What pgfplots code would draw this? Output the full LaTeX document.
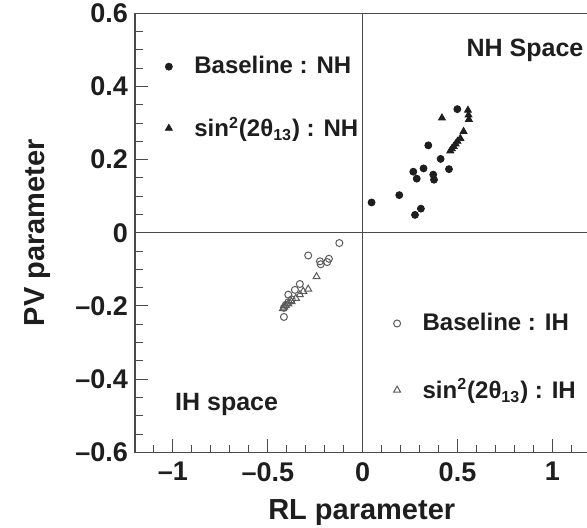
\documentclass[border=0pt]{standalone}
\usepackage{fontspec}
\setmainfont{Liberation Sans}
\usepackage{pgfplots}
\pgfplotsset{compat=1.18}
\definecolor{txt}{HTML}{1E1E1E}
\definecolor{opengray}{HTML}{5A5A5A}
\definecolor{axgray}{HTML}{4A4A4A}
\begin{document}
\begin{tikzpicture}
\pgfplotsset{
  common/.style={
    scale only axis, width=227.65pt, height=219.5pt,
    xmin=-1.2, xmax=1.2, ymin=-0.6, ymax=0.6,
    at={(0,0)}, anchor=south west, clip=false,
  },
  legtxt/.style={font=\fontsize{12}{14}\selectfont\bfseries, text=txt},
}
\begin{axis}[common,
  axis line style={line width=0.6pt, color=axgray},
  tick align=inside, xtick pos=bottom, ytick pos=left,
  xtick={-1,-0.5,0,0.5,1}, xticklabels={--1,--0.5,0,0.5,1},
  ytick={-0.6,-0.4,-0.2,0,0.2,0.4,0.6},
  yticklabels={--0.6,--0.4,--0.2,0,0.2,0.4,0.6},
  minor xtick={-1.1,-0.9,-0.8,-0.7,-0.6,-0.4,-0.3,-0.2,-0.1,0.1,0.2,0.3,0.4,0.6,0.7,0.8,0.9,1.1},
  minor ytick={-0.55,-0.5,-0.45,-0.35,-0.3,-0.25,-0.15,-0.1,-0.05,0.05,0.1,0.15,0.25,0.3,0.35,0.45,0.5,0.55},
  major tick length=6.5pt, minor tick length=3.8pt,
  every tick/.style={line width=0.5pt, axgray},
  ticklabel style={font=\fontsize{13.5}{15}\selectfont\bfseries, text=txt},
  xticklabel style={yshift=-1.5pt},
  xlabel={RL parameter}, ylabel={PV parameter},
  every axis x label/.style={at={(axis description cs:0.498,-0.138)}, anchor=center,
    font=\fontsize{14.5}{16}\selectfont\bfseries, text=txt},
  every axis y label/.style={at={(axis description cs:-0.215,0.5)}, anchor=center, rotate=90,
    font=\fontsize{14.5}{16}\selectfont\bfseries, text=txt},
  legend style={at={(axis cs:-1.042,0.494)}, anchor=north west, draw=none, fill=none,
    legtxt, row sep=16pt, column sep=9pt, inner sep=0pt},
  legend cell align=left,
]
\addplot[axgray, line width=0.5pt, forget plot] coordinates {(0,-0.6) (0,0.6)};
\addplot[axgray, line width=0.5pt, forget plot] coordinates {(-1.2,0) (1.2,0)};
\addplot[only marks, mark=*, mark size=1.75pt, color=txt] coordinates {
(0.047,0.083) (0.193,0.103) (0.276,0.049) (0.307,0.066) (0.267,0.167)
(0.285,0.148) (0.321,0.176) (0.346,0.239) (0.372,0.159) (0.376,0.145)
(0.411,0.202) (0.455,0.174) (0.499,0.338)};
\addlegendentry{Baseline : NH}
\addplot[only marks, mark=triangle*, mark size=2pt, color=txt] coordinates {
(0.418,0.314) (0.555,0.335) (0.558,0.322) (0.560,0.310) (0.532,0.277)
(0.515,0.258) (0.500,0.250) (0.490,0.243) (0.480,0.236) (0.470,0.230) (0.462,0.224)};
\addlegendentry{sin\textsuperscript{2}(2θ\textsubscript{13}) : NH}
\node[anchor=base, font=\fontsize{12.5}{14}\selectfont\bfseries, text=txt] at (axis cs:0.856,0.482) {NH Space};
\node[anchor=base, font=\fontsize{12.5}{14}\selectfont\bfseries, text=txt] at (axis cs:-0.717,-0.487) {IH space};
\end{axis}
\begin{axis}[common, hide axis,
  legend style={at={(axis cs:0.161,-0.208)}, anchor=north west, draw=none, fill=none,
    legtxt, row sep=18.5pt, column sep=9pt, inner sep=0pt},
  legend cell align=left,
]
\addplot[only marks, mark=o, mark size=1.75pt, color=opengray, mark options={line width=0.5pt}] coordinates {
(-0.123,-0.028) (-0.287,-0.062) (-0.178,-0.071) (-0.187,-0.080) (-0.225,-0.078)
(-0.221,-0.086) (-0.331,-0.140) (-0.357,-0.156) (-0.392,-0.169) (-0.374,-0.182)
(-0.392,-0.190) (-0.405,-0.197) (-0.415,-0.205) (-0.415,-0.230)};
\addlegendentry{Baseline : IH}
\addplot[only marks, mark=triangle, mark size=2pt, color=opengray, mark options={line width=0.5pt}] coordinates {
(-0.243,-0.120) (-0.287,-0.154) (-0.313,-0.160) (-0.331,-0.169) (-0.352,-0.179)
(-0.375,-0.188) (-0.392,-0.194) (-0.405,-0.199) (-0.414,-0.203) (-0.420,-0.207)};
\addlegendentry{sin\textsuperscript{2}(2θ\textsubscript{13}) : IH}
\end{axis}
\pgfresetboundingbox
\path (-67.5pt,-37.35pt) rectangle (226pt,226.15pt);
\end{tikzpicture}
\end{document}
